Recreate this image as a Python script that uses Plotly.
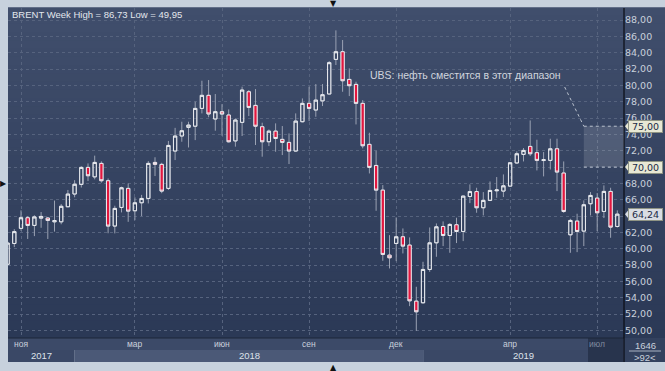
import plotly.graph_objects as go
import pandas as pd

# ---------------- data ----------------
dates = pd.date_range('2017-10-23', periods=92, freq='7D')
opens = [58.1, 60.65, 62.5, 63.8, 62.86, 63.75, 63.76, 63.3, 63.3, 65.14, 66.7, 67.88, 69.96, 68.8, 70.45,
         68.33, 62.78, 65.06, 67.39, 64.65, 65.63, 66.16, 70.57, 70.33, 67.39, 71.96, 73.8, 74.86, 75.0, 77.18,
         78.78, 75.88, 76.78, 76.37, 73.2, 75.47, 79.22, 77.55, 74.94, 73.1, 74.4, 73.39, 73.02, 71.96, 75.55,
         77.8, 76.98, 78.1, 78.94, 83.18, 84.12, 80.73, 80.12, 77.8, 72.78, 70.2, 67.18, 59.22, 60.65, 61.47,
         60.45, 53.59, 53.39, 57.47, 60.73, 62.73, 61.63, 62.94, 62.12, 66.4, 67.0, 65.02, 65.92, 67.1, 67.06,
         67.67, 70.5, 71.55, 72.53, 71.76, 70.8, 70.82, 72.24, 69.27, 61.71, 63.39, 62.16, 65.51, 66.2, 64.57,
         67.02, 62.73]
highs = [61.0, 62.4, 64.7, 64.0, 64.1, 64.5, 63.9, 65.9, 65.47, 67.2, 68.4, 70.1, 70.45, 71.4, 70.7,
         68.6, 65.27, 67.6, 68.0, 66.3, 66.6, 70.73, 71.2, 70.53, 73.2, 74.8, 75.55, 75.55, 78.0, 80.57,
         80.65, 78.94, 77.7, 77.06, 75.96, 79.84, 79.43, 79.55, 75.43, 74.6, 75.35, 75.02, 74.12, 76.57, 78.4,
         79.84, 80.16, 80.16, 82.98, 86.73, 85.55, 82.08, 80.45, 78.2, 74.2, 72.0, 67.8, 61.67, 63.84, 62.49,
         61.39, 55.35, 58.41, 62.61, 63.1, 63.35, 63.14, 63.8, 66.5, 67.88, 67.47, 66.94, 68.24, 68.78, 69.1,
         70.6, 71.92, 72.33, 75.71, 73.35, 71.84, 73.47, 73.47, 70.69, 63.67, 64.29, 65.92, 66.94, 66.82, 67.76,
         67.47, 64.7]
lows = [57.9, 60.2, 62.2, 61.2, 61.55, 62.57, 61.2, 62.1, 63.0, 65.1, 66.3, 67.5, 68.3, 68.5, 68.1,
        61.9, 61.88, 64.45, 63.3, 63.5, 64.0, 65.55, 68.9, 66.8, 67.2, 70.86, 73.1, 72.4, 73.3, 76.57,
        76.1, 74.45, 73.84, 73.0, 72.5, 73.8, 76.24, 72.7, 71.27, 72.57, 71.88, 71.47, 70.37, 71.88, 75.47,
        75.63, 76.16, 77.47, 78.94, 82.49, 79.22, 78.69, 75.22, 72.29, 69.22, 64.65, 58.53, 57.59, 58.49, 59.43,
        52.98, 49.95, 53.3, 57.18, 59.02, 60.33, 59.51, 60.7, 60.94, 65.59, 64.41, 64.08, 65.84, 66.24, 66.33,
        67.6, 70.4, 70.69, 71.35, 69.59, 68.86, 69.7, 67.06, 64.4, 59.51, 59.59, 60.33, 64.08, 62.16, 63.76,
        61.35, 62.6]
closes = [60.7, 62.1, 63.8, 62.86, 63.9, 63.96, 63.47, 63.45, 65.2, 66.7, 67.9, 69.96, 68.94, 70.57, 68.33,
          62.78, 64.94, 67.47, 64.61, 65.63, 66.16, 70.45, 70.33, 67.06, 72.65, 73.8, 74.45, 75.14, 77.18, 78.78,
          76.5, 76.78, 76.49, 73.1, 75.76, 79.43, 77.3, 75.0, 73.1, 74.4, 73.5, 73.02, 71.96, 75.63, 77.8,
          77.18, 78.2, 78.86, 82.78, 84.12, 80.57, 79.96, 77.8, 72.61, 69.96, 67.18, 59.31, 58.9, 61.47, 60.33,
          53.63, 52.29, 57.47, 60.73, 62.69, 61.63, 62.98, 62.12, 66.45, 67.0, 65.02, 65.92, 67.14, 67.2, 67.71,
          70.53, 71.63, 72.04, 71.63, 70.82, 70.9, 72.24, 69.39, 64.57, 63.47, 62.12, 65.39, 66.53, 64.41, 67.02,
          62.65, 64.24]

month_ticks = ['2017-11-06', '2018-03-05', '2018-06-04', '2018-09-03', '2018-12-03', '2019-04-01', '2019-07-01']
month_labels = ['ноя', 'мар', 'июн', 'сен', 'дек', 'апр', 'июл']
year_labels = ['2017', '2018', '2019']
year_starts = ['2018-01-01', '2019-01-01']
y_ticks = list(range(50, 90, 2))
target_low, target_high = 70.0, 75.0
last_close = closes[-1]
title_text = 'BRENT Week High = 86,73 Low = 49,95'
note_text = 'UBS: нефть сместится в этот диапазон'

# ---------------- layout constants ----------------
W, H = 665, 371
ML, MR, MT, MB = 8, 41, 8, 33
PW, PH = W - ML - MR, H - MT - MB
X0, X1 = pd.Timestamp('2017-10-23 10:00'), pd.Timestamp('2019-07-29')
Y0, Y1 = 49.08, 89.47


def px_x(p):  # pixel -> paper x
    return (p - ML) / PW


def px_y(p):  # pixel -> paper y
    return (H - MB - p) / PH


FONT = 'Liberation Sans, Arial, sans-serif'
TXT = '#c9d0dc'

fig = go.Figure()
body_hi = [max(o, c) for o, c in zip(opens, closes)]
body_lo = [min(o, c) for o, c in zip(opens, closes)]

# wicks (grey)
fig.add_trace(go.Candlestick(
    x=dates, open=opens, high=highs, low=lows, close=closes,
    increasing=dict(line=dict(color='#9aa2b3', width=1), fillcolor='rgba(0,0,0,0)'),
    decreasing=dict(line=dict(color='#9aa2b3', width=1), fillcolor='rgba(0,0,0,0)'),
    hoverinfo='skip', showlegend=False))
# bodies
fig.add_trace(go.Candlestick(
    x=dates, open=opens, high=body_hi, low=body_lo, close=closes,
    increasing=dict(line=dict(color='#e9ebef', width=1), fillcolor='rgba(0,0,0,0)'),
    decreasing=dict(line=dict(color='#eceef2', width=1), fillcolor='#e3173f'),
    showlegend=False))

shapes = []
# gradient background (plot + right panel)
N = 40
c_top, c_bot = (0x40, 0x4e, 0x6c), (0x2b, 0x39, 0x56)
for i in range(N):
    t = i / (N - 1)
    col = 'rgb(%d,%d,%d)' % tuple(round(a + (b - a) * t) for a, b in zip(c_top, c_bot))
    shapes.append(dict(type='rect', xref='paper', yref='paper', layer='below',
                       x0=0, x1=px_x(W), y0=1 - i / N + 0.002, y1=1 - (i + 1) / N,
                       line=dict(width=0), fillcolor=col))
# bottom axis strip
shapes.append(dict(type='rect', xref='paper', yref='paper', x0=0, x1=1, y0=px_y(350), y1=px_y(338),
                   line=dict(width=0), fillcolor='#3c4a68'))
band_edges = [X0] + [pd.Timestamp(s) for s in year_starts] + [X1]
band_cols = ['#3a4866', '#4b5977', '#3a4866']
for i in range(3):
    shapes.append(dict(type='rect', xref='x', yref='paper', x0=band_edges[i], x1=band_edges[i + 1],
                       y0=px_y(362), y1=px_y(350), line=dict(width=0), fillcolor=band_cols[i]))
shapes.append(dict(type='rect', xref='paper', yref='paper', x0=px_x(588), x1=px_x(623),
                   y0=px_y(362), y1=px_y(338), line=dict(width=0), fillcolor='#28344d'))
# right-bottom cell
shapes.append(dict(type='rect', xref='paper', yref='paper', x0=1, x1=px_x(W), y0=px_y(362), y1=px_y(338),
                   line=dict(width=0), fillcolor='#33415e'))
shapes.append(dict(type='line', xref='paper', yref='paper', x0=px_x(629), x1=px_x(661),
                   y0=px_y(351), y1=px_y(351), line=dict(color='#aab3c2', width=1)))
# separators
shapes.append(dict(type='line', xref='paper', yref='paper', x0=0, x1=1, y0=0, y1=0,
                   line=dict(color='#1c2639', width=1)))
shapes.append(dict(type='line', xref='paper', yref='paper', x0=1, x1=1, y0=px_y(362), y1=1,
                   line=dict(color='#0a0d14', width=1.2)))
# target range box
shapes.append(dict(type='rect', xref='x', yref='y', x0='2019-06-17', x1=X1, y0=target_low, y1=target_high,
                   line=dict(width=0), fillcolor='rgba(255,255,255,0.13)', layer='above'))
for yv in (target_low, target_high):
    shapes.append(dict(type='line', xref='x', yref='y', x0='2019-06-17', x1=X1, y0=yv, y1=yv,
                       line=dict(color='#b9c1cd', width=1, dash='dot')))
shapes.append(dict(type='line', xref='x', yref='y', x0='2019-05-28', y0=79.8, x1='2019-06-17', y1=target_high,
                   line=dict(color='#b9c1cd', width=1, dash='dot')))

annotations = []
annotations.append(dict(xref='paper', yref='paper', x=px_x(10), y=px_y(14), text=title_text, showarrow=False,
                        xanchor='left', yanchor='middle', font=dict(family=FONT, size=9.5, color='#e3e7ed')))
annotations.append(dict(xref='x', yref='y', x='2019-05-26', y=81.27, text=note_text, showarrow=False,
                        xanchor='right', yanchor='middle', font=dict(family=FONT, size=10.5, color='#d0d5de')))
for d, lab in zip(month_ticks, month_labels):
    annotations.append(dict(xref='x', yref='paper', x=d, y=px_y(344), text=lab, showarrow=False,
                            xanchor='center', yanchor='middle',
                            font=dict(family=FONT, size=8.5, color='#7f899d' if lab == 'июл' else TXT)))
for i, lab in enumerate(year_labels):
    mid = band_edges[i] + (band_edges[i + 1] - band_edges[i]) / 2
    annotations.append(dict(xref='x', yref='paper', x=mid, y=px_y(356), text=lab, showarrow=False,
                            xanchor='center', yanchor='middle', font=dict(family=FONT, size=9.5, color='#dde2ea')))
# price tags
tag_values = [target_high, target_low, last_close]
for yv, bg in zip(tag_values, ('#e8e8d4', '#e8e8d4', '#d9dde3')):
    annotations.append(dict(xref='paper', yref='y', x=px_x(628), y=yv,
                            text=('%.2f' % yv).replace('.', ','), showarrow=False,
                            xanchor='left', yanchor='middle', width=33, height=11,
                            bgcolor=bg, bordercolor='#8f9484', borderwidth=1, borderpad=0,
                            font=dict(family='DejaVu Sans', size=9.5, color='#1b2a47')))
    shapes.append(dict(type='path', xref='paper', yref='y', xsizemode='pixel', ysizemode='pixel',
                       xanchor=1, yanchor=yv, path='M 1,0 L 5,5 L 5,-5 Z',
                       fillcolor=bg, line=dict(width=0)))
annotations.append(dict(xref='paper', yref='paper', x=px_x(645), y=px_y(345), text='1646', showarrow=False,
                        xanchor='center', yanchor='middle', font=dict(family=FONT, size=9.5, color=TXT)))
annotations.append(dict(xref='paper', yref='paper', x=px_x(645), y=px_y(357.5), text='&gt;92&lt;', showarrow=False,
                        xanchor='center', yanchor='middle', font=dict(family=FONT, size=9.5, color=TXT)))
# UI triangles
for x, y, t in ((333, 3, '▼'), (3, 183, '▶'), (333, 367, '▲')):
    annotations.append(dict(xref='paper', yref='paper', x=px_x(x), y=px_y(y), text=t, showarrow=False,
                            xanchor='center', yanchor='middle', font=dict(family='DejaVu Sans', size=8, color='#111')))

# tick labels hidden behind price tags (as in the reference)
covered = [round(v) for v in tag_values if abs(v - round(v)) < 0.3 and round(v) % 2 == 0]
y_ticktext = ['' if v in covered else ('%.2f' % v).replace('.', ',') for v in y_ticks]

fig.update_layout(
    width=W, height=H, margin=dict(l=ML, r=MR, t=MT, b=MB),
    paper_bgcolor='#c7d1dd', plot_bgcolor='rgba(0,0,0,0)',
    separators=', ', showlegend=False, shapes=shapes, annotations=annotations,
    xaxis=dict(type='date', range=[X0, X1], rangeslider=dict(visible=False),
               tickvals=month_ticks, showticklabels=False, ticks='',
               showgrid=True, gridcolor='#56637e', griddash='dot', gridwidth=1,
               zeroline=False, showline=False, fixedrange=True),
    yaxis=dict(side='right', range=[Y0, Y1], tickvals=y_ticks, ticktext=y_ticktext,
               showgrid=True, gridcolor='#56637e', griddash='dot', gridwidth=1,
               ticks='', zeroline=False, showline=False,
               tickfont=dict(family='DejaVu Sans', size=9.5, color=TXT)),
)

fig.write_html('out.html', config={'displayModeBar': False},
               post_script="document.body.style.margin='0';document.body.style.background='#c7d1dd';")
